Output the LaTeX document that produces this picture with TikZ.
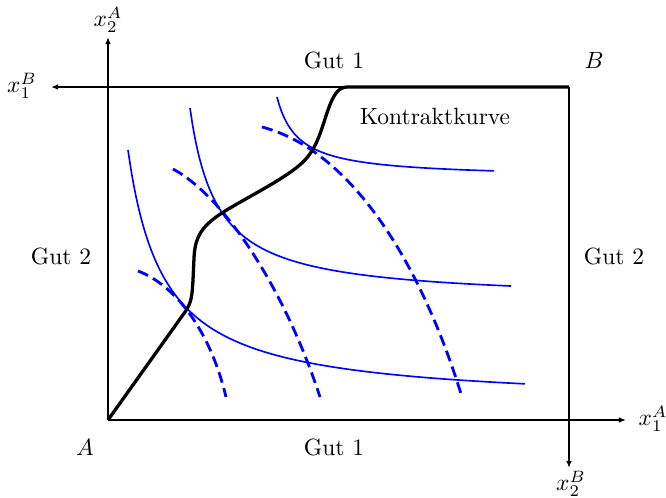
\documentclass[tikz,border=0pt]{standalone}
\usetikzlibrary{arrows.meta}
\begin{document}
\begin{tikzpicture}[x=0.4255pt,y=-0.4255pt,
  axis/.style={line width=0.8pt,-{Latex[length=3pt,width=2.4pt]}},
  indiffA/.style={blue,line width=0.7pt},
  indiffB/.style={blue,line width=1.2pt,dash pattern=on 4.7pt off 2.4pt},
  contract/.style={line width=1.4pt,line join=round},
  lbl/.style={inner sep=1pt}]
\useasboundingbox (0,0) rectangle (666,498);
% origins and axis ends
\coordinate (A0) at (108,420);
\coordinate (yA) at (108,37);
\coordinate (xA) at (626,420);
\coordinate (B0) at (569,87);
\coordinate (xB) at (51,87);
\coordinate (yB) at (569,468);
% axes
\draw[axis] (A0) -- (yA);
\draw[axis] (A0) -- (xA);
\draw[axis] (B0) -- (xB);
\draw[axis] (B0) -- (yB);
% indifference curves of A (solid)
\draw[indiffA] plot[domain=128:525,samples=120,smooth] (\x,{405-9155/(\x-92.1)});
\draw[indiffA] plot[domain=190:511,samples=120,smooth] (\x,{301-5211/(\x-163)});
\draw[indiffA] plot[domain=277:494,samples=100,smooth] (\x,{178-1693/(\x-256.1)});
% indifference curves of B (dashed)
\draw[indiffB] (138,271) .. controls (175,285) and (210,330) .. (226,397);
\draw[indiffB] (173,169) .. controls (225,197) and (285,290) .. (320,397);
\draw[indiffB] (262,127) .. controls (350,150) and (420,260) .. (462,397);
% contract curve
\draw[contract] (A0) -- (185,312) .. controls (192,302) and (192,295) .. (193,280)
  -- (194,258) .. controls (195,235) and (203,225) .. (225,211)
  .. controls (255,193) and (290,176) .. (305,160)
  .. controls (318,146) and (322,127) .. (328,110)
  .. controls (333,96) and (338,87) .. (347,87) -- (B0);
% labels
\node[lbl] (lx2A) at (108,20) {$x_2^A$};
\node[lbl] (lx1B) at (22,86) {$x_1^B$};
\node[lbl] (lx1A) at (653,419) {$x_1^A$};
\node[lbl] (lx2B) at (571,484) {$x_2^B$};
\node[lbl] (lA) at (85,447) {$A$};
\node[lbl] (lB) at (594,60) {$B$};
\node[lbl] (gut1t) at (334,60) {Gut 1};
\node[lbl] (gut1b) at (334,447) {Gut 1};
\node[lbl] (gut2l) at (61,256) {Gut 2};
\node[lbl] (gut2r) at (614,256) {Gut 2};
\node[lbl] (kk) at (435,116) {Kontraktkurve};
\end{tikzpicture}
\end{document}
